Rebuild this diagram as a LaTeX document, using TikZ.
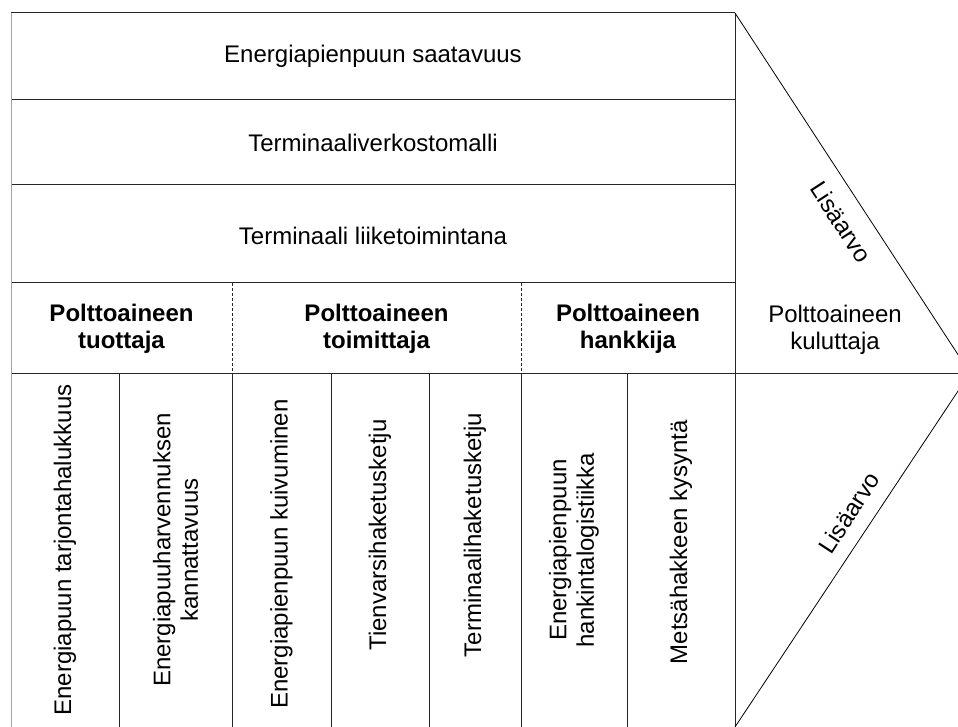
\documentclass[tikz,border=0pt]{standalone}
\usepackage{fontspec}
\setmainfont{Liberation Sans}

\tikzset{
  txt/.style={font=\fontsize{24}{27.5}\selectfont, align=center, inner sep=0pt},
  head/.style={txt, font=\fontsize{24}{27.5}\selectfont\bfseries},
  uptxt/.style={txt, rotate=90},
  grid/.style={draw=black!85, line width=1pt},
}

\begin{document}
\begin{tikzpicture}[x=1pt, y=-1pt]
    \useasboundingbox (0,0) rectangle (958,727);
    \clip (0,0) rectangle (958,727);
    \coordinate (tip) at (970,373);

    % rows on top
    \draw[grid] (11,13) -- (735,13);
    \draw[grid] (11,100) -- (735,100);
    \draw[grid] (11,185) -- (735,185);
    \draw[grid] (11,283) -- (735,283);
    \draw[grid] (11,373) -- (tip);
    \draw[black!35, line width=1pt] (11,13) -- (11,727);
    \draw[grid] (735,13) -- (735,727);
    \node[txt] (saatavuus) at (373,56) {Energiapienpuun saatavuus};
    \node[txt] (verkosto) at (373,143) {Terminaaliverkostomalli};
    \node[txt] (liiketoiminta) at (373,236) {Terminaali liiketoimintana};

    % actors
    \draw[grid, dash pattern=on 3pt off 2pt] (232,283) -- (232,373);
    \draw[grid, dash pattern=on 3pt off 2pt] (521,283) -- (521,373);
    \node[head] (tuottaja) at (121.5,329) {Polttoaineen\\tuottaja};
    \node[head] (toimittaja) at (376.5,329) {Polttoaineen\\toimittaja};
    \node[head] (hankkija) at (628,329) {Polttoaineen\\hankkija};
    \node[txt] (kuluttaja) at (835,330) {Polttoaineen\\kuluttaja};

    % columns below
    \foreach \x in {119,232,331,429,521,627}
        \draw[grid] (\x,373) -- (\x,727);
    \node[uptxt] (tarjonta) at (65,550) {Energiapuun tarjontahalukkuus};
    \node[uptxt] (harvennus) at (175.5,550) {Energiapuuharvennuksen\\kannattavuus};
    \node[uptxt] (kuivuminen) at (281.5,554) {Energiapienpuun kuivuminen};
    \node[uptxt] (tienvarsi) at (380,535) {Tienvarsihaketusketju};
    \node[uptxt] (terminaali) at (475,535) {Terminaalihaketusketju};
    \node[uptxt] (logistiikka) at (574,550) {Energiapienpuun\\hankintalogistiikka};
    \node[uptxt] (kysynta) at (681,542) {Metsähakkeen kysyntä};

    % added value wedge
    \draw[black, line width=0.8pt] (735,13) -- (tip) -- (735,727);
    \node[txt, rotate=-57] (lisaA) at (841,222) {Lisäarvo};
    \node[txt, rotate=57] (lisaB) at (849,513) {Lisäarvo};
\end{tikzpicture}
\end{document}
